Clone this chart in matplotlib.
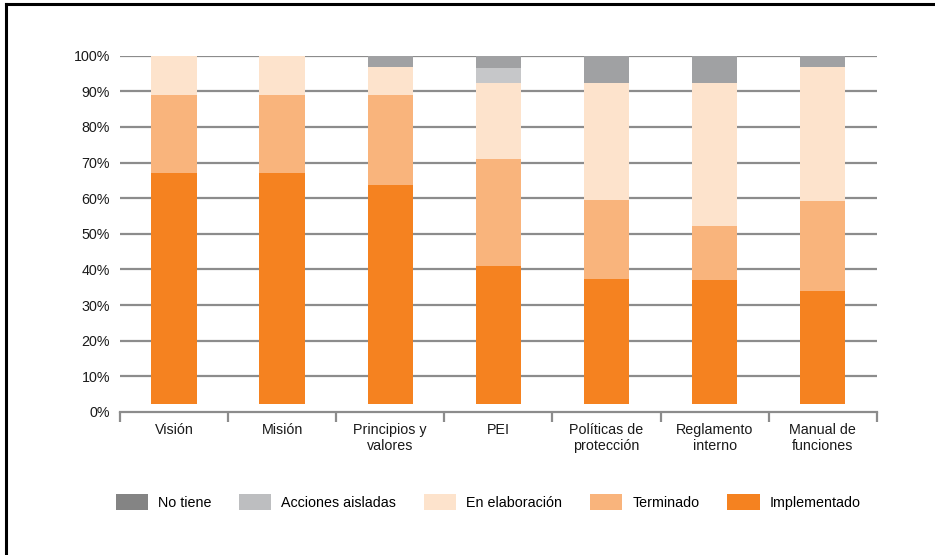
import matplotlib
matplotlib.use("Agg")
import matplotlib.pyplot as plt
from matplotlib.patches import Patch
from matplotlib import font_manager
import numpy as np

categories = ["Visión", "Misión", "Principios y\nvalores", "PEI",
              "Políticas de\nprotección", "Reglamento\ninterno", "Manual de\nfunciones"]
series_names = ["No tiene", "Acciones aisladas", "En elaboración", "Terminado", "Implementado"]
implementado = [66.4, 66.4, 62.9, 39.7, 35.9, 35.6, 32.5]
terminado = [22.3, 22.3, 25.8, 30.6, 22.6, 15.5, 25.8]
en_elaboracion = [11.3, 11.3, 8.0, 21.8, 33.6, 41.0, 38.4]
acciones_aisladas = [0.0, 0.0, 0.0, 4.5, 0.0, 0.0, 0.0]
no_tiene = [0.0, 0.0, 3.3, 3.4, 7.9, 7.9, 3.3]
y_ticks = [0, 10, 20, 30, 40, 50, 60, 70, 80, 90, 100]
y_tick_labels = ["0%", "10%", "20%", "30%", "40%", "50%", "60%", "70%", "80%", "90%", "100%"]

bar_colors = ["#A0A1A3", "#C6C7C9", "#FDE3CC", "#F9B47C", "#F58220"]
legend_colors = ["#848484", "#BDBEC0", "#FDE3CC", "#F9B47C", "#F58220"]

names = {f.name for f in font_manager.fontManager.ttflist}
fam = ["Liberation Sans Narrow", "Liberation Sans", "DejaVu Sans"]
fam = [f for f in fam if f in names] or ["DejaVu Sans"]
plt.rcParams["font.family"] = fam
FS = 10.3

fig = plt.figure(figsize=(9.35, 5.55), dpi=100)
ax = fig.add_axes([0.1283, 0.2577, 0.8094, 0.6419])
ax.set_xlim(-0.5, len(categories) - 0.5)
ax.set_ylim(0, 100)
for s in ["top", "right", "left"]:
    ax.spines[s].set_visible(False)
ax.spines["bottom"].set_color("#8C8C8C")
ax.spines["bottom"].set_linewidth(1.6)
ax.set_yticks(y_ticks)
ax.set_yticklabels(y_tick_labels, fontsize=FS, color="#1a1a1a")
ax.tick_params(axis="y", length=0, pad=7)
for t in y_ticks[1:]:
    ax.axhline(t, color="#8C8C8C", lw=1.6, zorder=0)
x = np.arange(len(categories))
ax.set_xticks(np.arange(len(categories) + 1) - 0.5)
ax.set_xticklabels([])
ax.tick_params(axis="x", which="major", length=7, width=1.6, color="#8C8C8C", direction="out")
ax.set_xticks(x, minor=True)
ax.set_xticklabels(categories, minor=True, fontsize=FS, color="#1a1a1a", linespacing=1.15)
ax.tick_params(axis="x", which="minor", length=0, pad=8)

ax2 = ax.twinx()
ax2.set_ylim(-2.2, 100.0)
ax2.axis("off")
stack = [implementado, terminado, en_elaboracion, acciones_aisladas, no_tiene]
stack_colors = bar_colors[::-1]
bottom = np.zeros(len(categories))
for vals, col in zip(stack, stack_colors):
    v = np.array(vals)
    ax2.bar(x, v, bottom=bottom, width=0.42, color=col, linewidth=0, zorder=3)
    bottom += v

handles = [Patch(facecolor=c, edgecolor="none") for c in legend_colors]
fig.legend(handles, series_names, loc="center", bbox_to_anchor=(0.522, 0.0955),
           ncol=5, frameon=False, fontsize=FS, handlelength=2.25, handleheight=1.4,
           handletextpad=0.7, columnspacing=1.95)

# frame lines (top and left)
fig.add_artist(plt.Line2D([0.006, 1.0], [0.9928, 0.9928], color="black", lw=2.2, transform=fig.transFigure))
fig.add_artist(plt.Line2D([0.0064, 0.0064], [0.0, 0.9928], color="black", lw=2.2, transform=fig.transFigure))

fig.savefig("out.png", dpi=100)
